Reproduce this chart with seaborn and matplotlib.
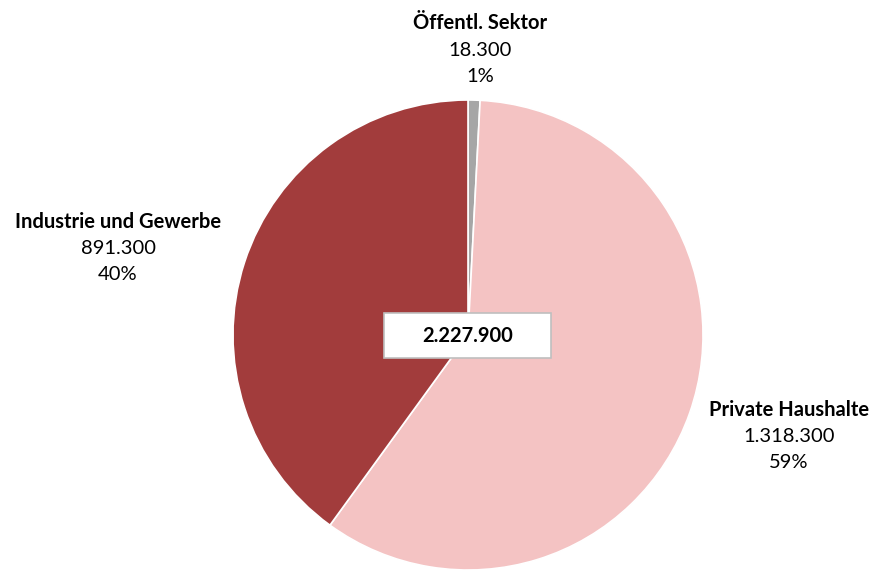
import matplotlib
matplotlib.use("Agg")
import matplotlib.pyplot as plt
import seaborn as sns
from matplotlib.patches import Rectangle

categories = ["Öffentl. Sektor", "Private Haushalte", "Industrie und Gewerbe"]
values = [18300, 1318300, 891300]
value_labels = ["18.300", "1.318.300", "891.300"]
pct_labels = ["1%", "59%", "40%"]
total_label = "2.227.900"

sns.set_theme(style="white")
plt.rcParams["font.family"] = ["Lato", "DejaVu Sans"]

colors = ["#a6a6a6", "#f4c3c3", "#a23c3c"]

W, H = 874, 572
fig = plt.figure(figsize=(W / 100, H / 100), dpi=100)
ax = fig.add_axes([0, 0, 1, 1])

cx, cy, r = 468, H - 335, 235
wedges, _ = ax.pie(values, colors=colors, startangle=90, counterclock=False,
                   center=(cx, cy), radius=r, explode=[0, 0.012, 0],
                   wedgeprops=dict(edgecolor="white", linewidth=1.2), frame=True)
ax.set_xlim(0, W)
ax.set_ylim(0, H)
ax.set_aspect("equal")
ax.axis("off")

label_pos = [(480, 23), (789, 410), (118, 222)]
fs = 14.5
for (x, y), name, v, p in zip(label_pos, categories, value_labels, pct_labels):
    ax.text(x, H - y, name, ha="center", va="center", fontsize=fs, fontweight="bold", color="black")
    ax.text(x, H - (y + 27), v, ha="center", va="center", fontsize=fs, color="black")
    ax.text(x, H - (y + 53), p, ha="center", va="center", fontsize=fs, color="black")

ax.add_patch(Rectangle((384, H - 358), 167, 45, facecolor="white", edgecolor="#bfbfbf", linewidth=1.2, zorder=5))
ax.text(467.5, H - 335.5, total_label, ha="center", va="center", fontsize=fs, fontweight="bold", color="black", zorder=6)

fig.savefig("out.png", dpi=100)
